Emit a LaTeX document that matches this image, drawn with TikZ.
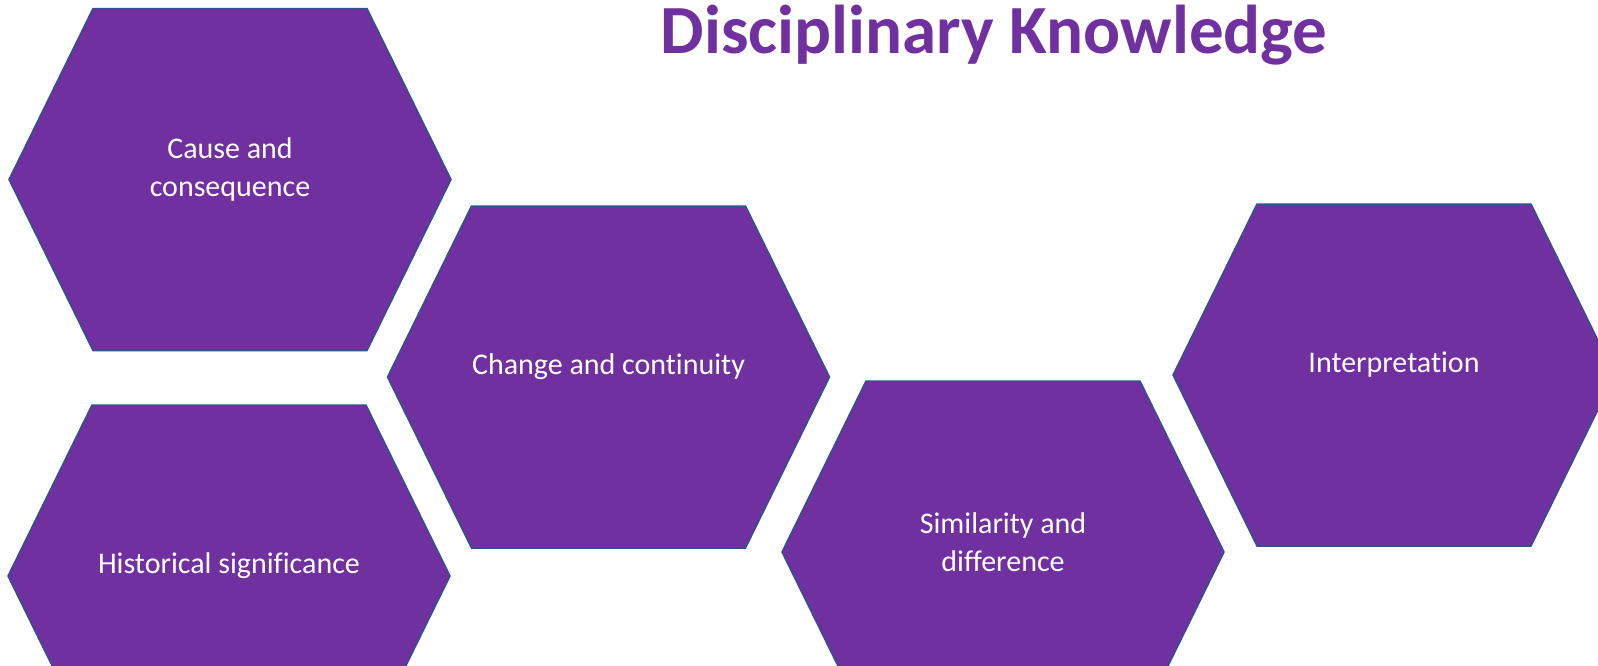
\documentclass[tikz,border=0pt]{standalone}
\usepackage{fontspec}
\setmainfont{Carlito}[Ligatures=NoCommon]
\definecolor{hexpurple}{HTML}{7030A0}
\definecolor{hexedge}{HTML}{2F528F}
\tikzset{
  hexcell/.style={fill=hexpurple, draw=hexedge, line width=1.5pt, line join=miter},
  hexlabel/.style={text=white, align=center, inner sep=0pt, font=\fontsize{30}{38}\selectfont},
  titlelabel/.style={text=hexpurple, inner sep=0pt, anchor=base, font=\fontsize{69}{82}\selectfont\bfseries}
}
% one hexagon: centre x, centre y, name, label
\newcommand\knowhex[4]{%
  \draw[hexcell] (#1-221,#2) -- (#1-137,#2-171) -- (#1+137,#2-171) -- (#1+221,#2)
    -- (#1+137,#2+171) -- (#1-137,#2+171) -- cycle;
  \node[hexlabel] (#3) at (#1,#2-10) {#4};
}
\begin{document}
\begin{tikzpicture}[x=1pt, y=-1pt]     % Now the hexagons of the page.
  \useasboundingbox (0,0) rectangle (1598,665);
  \fill[white] (0,0) rectangle (1598,665);
  \clip (0,0) rectangle (1598,665);
  \knowhex{230}{179.5}{cause}{Cause and\\consequence}
  \knowhex{608.5}{377}{change}{Change and continuity}
  \knowhex{229}{576}{significance}{Historical significance}
  \knowhex{1003}{552}{similarity}{Similarity and\\difference}
  \knowhex{1394}{375}{interpretation}{Interpretation}
  \node[titlelabel] (title) at (994,53) {Disciplinary Knowledge};
\end{tikzpicture}
\end{document}
